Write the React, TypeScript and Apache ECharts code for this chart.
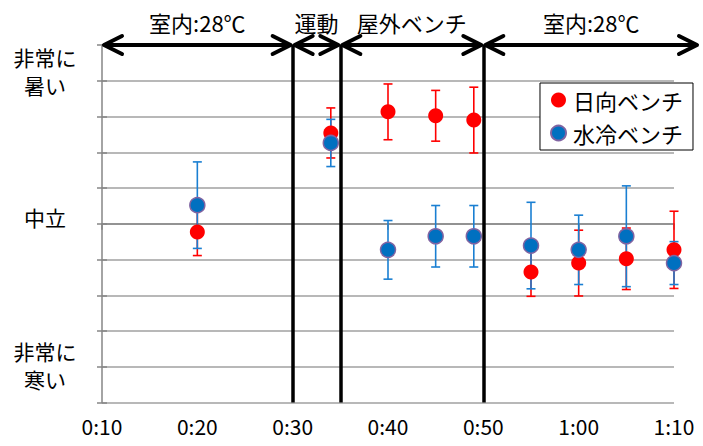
import React, { useEffect, useRef } from 'react';
import * as echarts from 'echarts';

// elapsed time in minutes
const timeMinutes = [20, 34, 40, 45, 49, 55, 60, 65, 70];
const sunMean = [-0.23, 2.54, 3.13, 3.02, 2.9, -1.35, -1.1, -0.98, -0.73];
const sunErr = [0.66, 0.7, 0.78, 0.71, 0.92, 0.68, 0.92, 0.86, 1.08];
const coolMean = [0.52, 2.26, -0.73, -0.35, -0.35, -0.61, -0.73, -0.35, -1.1];
const coolErr = [1.21, 0.66, 0.82, 0.86, 0.86, 1.21, 0.97, 1.41, 0.6];

const seriesNames = ['日向ベンチ', '水冷ベンチ'];
const phaseBounds = [10, 30, 35, 50];
const phaseLabels = ['室内:28℃', '運動', '屋外ベンチ', '室内:28℃'];
const dividers = [30, 35, 50];
const yTickLabels = [
  { v: 4, lines: ['非常に', '暑い'], dy: -10 },
  { v: 0, lines: ['中立'], dy: -7 },
  { v: -4, lines: ['非常に', '寒い'], dy: -2 },
];

const FONT = '"Noto Sans CJK JP", "Noto Sans", sans-serif';
const RED = '#FF0000';
const BLUE = '#0070C0';
const BLUE_BAR = '#1A7FD2';

const fmtTime = (v: number) => {
  const h = Math.floor(v / 60);
  const m = v % 60;
  return `${h}:${m < 10 ? '0' + m : m}`;
};

function errorSeries(name: string, mean: number[], err: number[], color: string) {
  return {
    type: 'custom',
    name: name + '_err',
    z: 2,
    silent: true,
    data: timeMinutes.map((t, i) => [t, mean[i] - err[i], mean[i] + err[i]]),
    renderItem: (params: any, api: any) => {
      const lo = api.coord([api.value(0), api.value(1)]);
      const hi = api.coord([api.value(0), api.value(2)]);
      const cap = 4.5;
      const style = { stroke: color, lineWidth: 1.6 };
      return {
        type: 'group',
        children: [
          { type: 'line', shape: { x1: lo[0], y1: lo[1], x2: hi[0], y2: hi[1] }, style },
          { type: 'line', shape: { x1: lo[0] - cap, y1: lo[1], x2: lo[0] + cap, y2: lo[1] }, style },
          { type: 'line', shape: { x1: hi[0] - cap, y1: hi[1], x2: hi[0] + cap, y2: hi[1] }, style },
        ],
      };
    },
  };
}

export default function App() {
  const ref = useRef<HTMLDivElement>(null);
  useEffect(() => {
    if (!ref.current) return;
    const chart = echarts.init(ref.current, null, { renderer: 'svg' });
    const option: any = {
      animation: false,
      textStyle: { fontFamily: FONT },
      grid: { left: 102, right: 29, top: 45, bottom: 43.5 },
      xAxis: {
        type: 'value',
        min: 10,
        max: 70,
        interval: 10,
        axisLine: { lineStyle: { color: '#868686', width: 1.5 } },
        axisTick: { show: true, length: 6, lineStyle: { color: '#868686', width: 1.5 } },
        splitLine: { show: false },
        axisLabel: { formatter: fmtTime, fontSize: 21, color: '#000', margin: 13, fontFamily: FONT },
      },
      yAxis: [
        {
          type: 'value',
          min: -5,
          max: 5,
          interval: 1,
          axisLine: { show: true, lineStyle: { color: '#868686', width: 1.5 } },
          axisTick: { show: true, length: 5, lineStyle: { color: '#868686', width: 1.5 } },
          splitLine: { show: true, lineStyle: { color: '#A0A0A0', width: 1.5 } },
          axisLabel: { show: false },
        },
        {
          type: 'value',
          position: 'left',
          min: -5,
          max: 5,
          interval: 1,
          axisLine: { show: false },
          axisTick: { show: true, inside: true, length: 5, lineStyle: { color: '#868686', width: 1.5 } },
          splitLine: { show: false },
          axisLabel: { show: false },
        },
      ],
      legend: {
        data: seriesNames,
        orient: 'vertical',
        right: 10,
        top: 83,
        borderColor: '#000',
        borderWidth: 1,
        backgroundColor: '#fff',
        padding: [6, 10, 6, 10],
        itemWidth: 15,
        itemHeight: 15,
        itemGap: 11,
        icon: 'circle',
        textStyle: { fontSize: 22, color: '#000', fontFamily: FONT, padding: [0, 0, 0, 2] },
      },
      series: [
        errorSeries(seriesNames[0], sunMean, sunErr, RED),
        errorSeries(seriesNames[1], coolMean, coolErr, BLUE_BAR),
        {
          type: 'scatter',
          name: seriesNames[0],
          z: 3,
          symbol: 'circle',
          symbolSize: 15,
          itemStyle: { color: RED, borderColor: RED, borderWidth: 0, opacity: 1 },
          data: timeMinutes.map((t, i) => [t, sunMean[i]]),
          markLine: {
            silent: true,
            symbol: ['none', 'none'],
            label: { show: false },
            lineStyle: { color: '#000', width: 3.5, type: 'solid', opacity: 1 },
            data: dividers.map((d) => ({ xAxis: d })),
          },
        },
        {
          type: 'scatter',
          name: seriesNames[1],
          z: 4,
          symbol: 'circle',
          symbolSize: 15,
          itemStyle: { color: BLUE, borderColor: '#8064A2', borderWidth: 1.5, opacity: 1 },
          data: timeMinutes.map((t, i) => [t, coolMean[i]]),
        },
      ],
    };
    chart.setOption(option);

    const px = (x: number, y: number) => chart.convertToPixel({ gridIndex: 0 }, [x, y]) as number[];
    const graphics: any[] = [];
    const topY = px(10, 5)[1];
    const rightEnd = chart.getWidth() - 4;
    const ends = phaseBounds.map((b) => px(b, 5)[0]).concat([rightEnd]);
    const arrowStyle = { stroke: '#000', lineWidth: 4, lineCap: 'round', lineJoin: 'round', fill: 'none' };
    for (let i = 0; i < phaseLabels.length; i++) {
      const a = ends[i];
      const b = ends[i + 1];
      graphics.push({
        type: 'line',
        z: 10,
        shape: { x1: a + 2, y1: topY, x2: b - 2, y2: topY },
        style: { stroke: '#000', lineWidth: 4 },
      });
      graphics.push({
        type: 'polyline',
        z: 10,
        shape: { points: [[a + 20, topY - 9], [a + 2, topY], [a + 20, topY + 9]] },
        style: arrowStyle,
      });
      graphics.push({
        type: 'polyline',
        z: 10,
        shape: { points: [[b - 20, topY - 9], [b - 2, topY], [b - 20, topY + 9]] },
        style: arrowStyle,
      });
      graphics.push({
        type: 'text',
        z: 10,
        x: (a + b) / 2,
        y: 22,
        style: {
          text: phaseLabels[i],
          fontSize: 22,
          fontFamily: FONT,
          fill: '#000',
          align: 'center',
          verticalAlign: 'middle',
        },
      });
    }
    yTickLabels.forEach((l) => {
      const p = px(10, l.v);
      const n = l.lines.length;
      l.lines.forEach((line, k) => {
        graphics.push({
          type: 'text',
          x: 45,
          y: p[1] + l.dy + (k - (n - 1) / 2) * 28,
          style: {
            text: line,
            fontSize: 21,
            fontFamily: FONT,
            fill: '#000',
            align: 'center',
            verticalAlign: 'middle',
          },
        });
      });
    });
    chart.setOption({ graphic: graphics });

    return () => chart.dispose();
  }, []);
  return (
    <div
      ref={ref}
      style={{ position: 'fixed', left: 0, top: 0, width: 703, height: 446, background: '#fff' }}
    />
  );
}
